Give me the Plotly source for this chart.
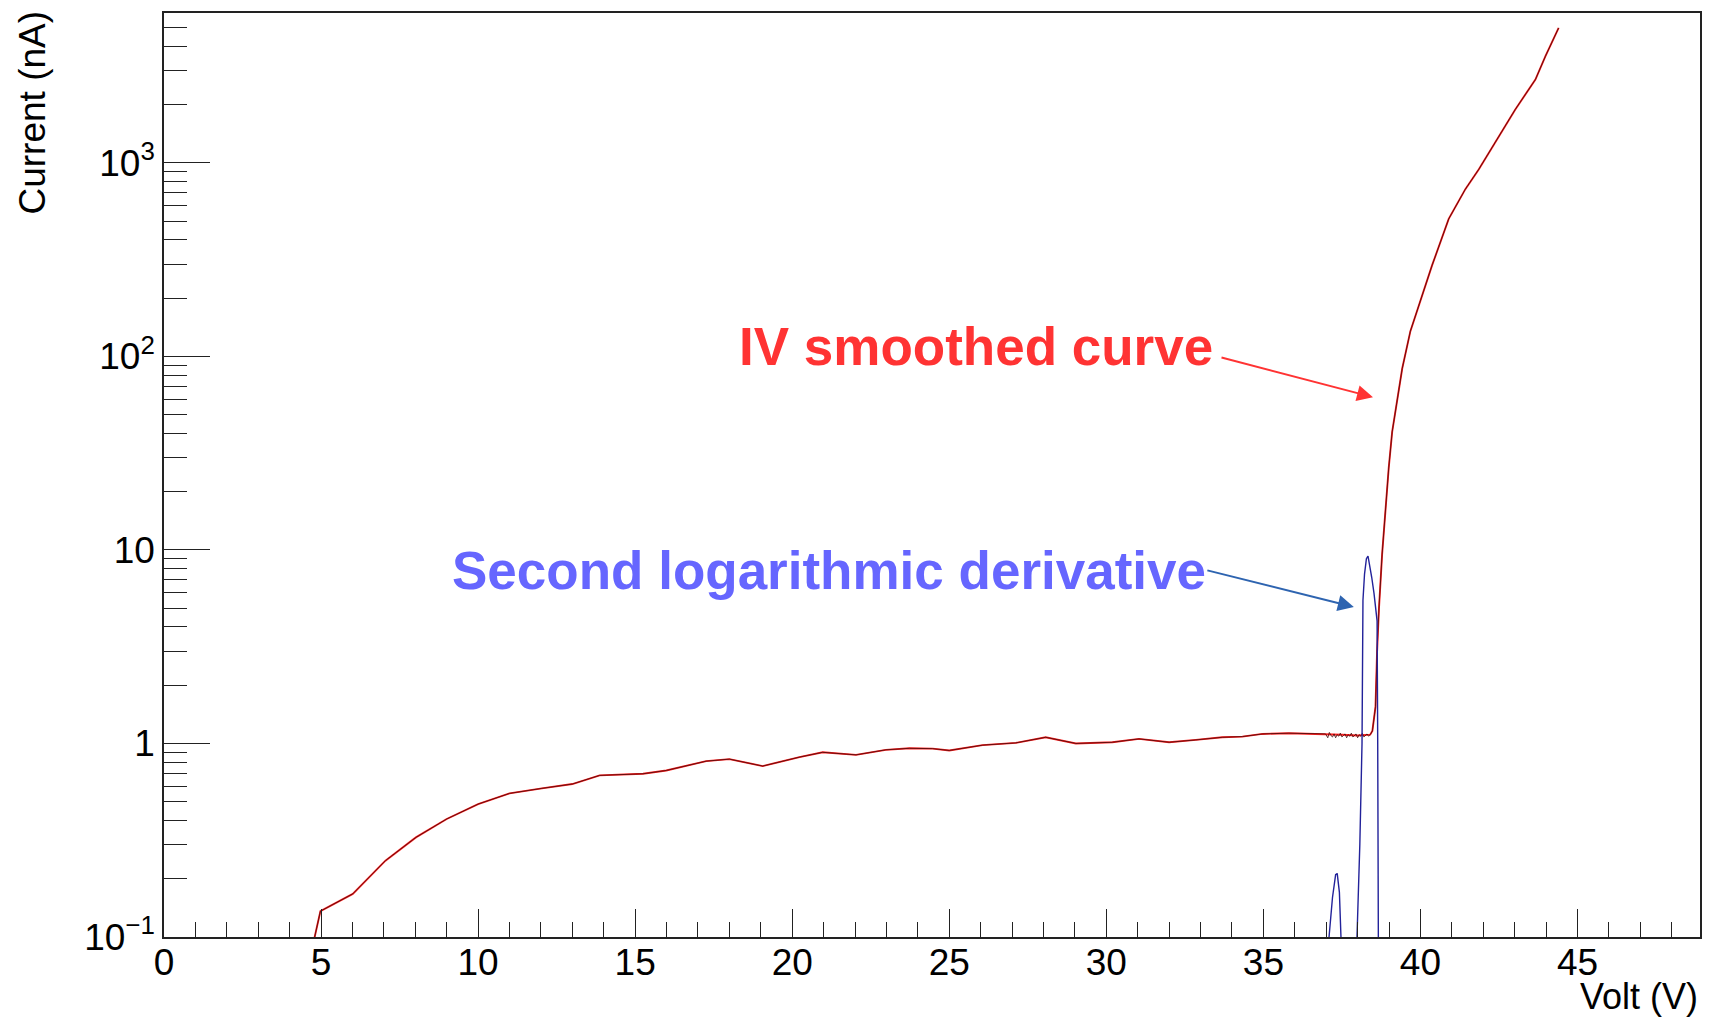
import plotly.graph_objects as go

# ---- data ----
iv_volt = [4.70, 4.98, 6.01, 7.05, 8.02, 9.0, 10.0, 11.0, 12.03, 13.0, 13.87, 15.25, 15.99,
           17.26, 18.0, 19.06, 20.23, 20.97, 22.03, 22.98, 23.73, 24.47, 25.0, 26.06, 27.12,
           28.07, 29.03, 30.19, 31.04, 32.0, 32.85, 33.69, 34.33, 34.97, 35.81, 36.98, 37.5,
           38.0, 38.4, 38.47, 38.57, 38.62, 38.68, 38.78, 38.89, 38.99, 39.10, 39.26, 39.42,
           39.68, 40.05, 40.37, 40.90, 41.43, 41.86, 42.49, 43.02, 43.66, 43.98, 44.40]
iv_curr = [0.085, 0.136, 0.167, 0.248, 0.327, 0.407, 0.486, 0.552, 0.586, 0.617, 0.684, 0.697, 0.725,
           0.81, 0.83, 0.764, 0.85, 0.90, 0.873, 0.927, 0.944, 0.94, 0.92, 0.98, 1.007,
           1.076, 1.0, 1.014, 1.056, 1.014, 1.043, 1.076, 1.085, 1.12, 1.13, 1.12, 1.11,
           1.10, 1.11, 1.16, 1.55, 3.0, 5.0, 9.5, 16.4, 26.5, 40.7, 60.8, 86.5,
           135, 207, 295, 513, 731, 927, 1377, 1888, 2693, 3556, 4980]

raw_volt = [4.70, 4.98, 6.01, 7.05, 8.02, 9.0, 10.0, 11.0, 12.03, 13.0, 13.87, 15.25, 15.99,
            17.26, 18.0, 19.06, 20.23, 20.97, 22.03, 22.98, 23.73, 24.47, 25.0, 26.06, 27.12,
            28.07, 29.03, 30.19, 31.04, 32.0, 32.85, 33.69, 34.33, 34.97, 35.81, 36.98,
            37.05, 37.10, 37.15, 37.20, 37.25, 37.30, 37.35, 37.40, 37.45, 37.50, 37.55, 37.60,
            37.65, 37.70, 37.75, 37.80, 37.85, 37.90, 37.95, 38.00, 38.05, 38.10, 38.15, 38.20,
            38.25, 38.30, 38.35, 38.40, 38.47, 38.57, 38.62, 38.68, 38.78, 38.89, 38.99, 39.10,
            39.26, 39.42, 39.68, 40.05, 40.37, 40.90, 41.43, 41.86, 42.49, 43.02, 43.66, 43.98, 44.40]
raw_curr = [0.085, 0.136, 0.167, 0.248, 0.327, 0.407, 0.486, 0.552, 0.586, 0.617, 0.684, 0.697, 0.725,
            0.81, 0.83, 0.764, 0.85, 0.90, 0.873, 0.927, 0.944, 0.94, 0.92, 0.98, 1.007,
            1.076, 1.0, 1.014, 1.056, 1.014, 1.043, 1.076, 1.085, 1.12, 1.13, 1.12,
            1.07, 1.14, 1.10, 1.08, 1.12, 1.07, 1.11, 1.09, 1.13, 1.08, 1.10, 1.12,
            1.07, 1.11, 1.09, 1.13, 1.08, 1.10, 1.12, 1.07, 1.11, 1.09, 1.13, 1.08,
            1.10, 1.12, 1.09, 1.11, 1.16, 1.55, 3.0, 5.0, 9.5, 16.4, 26.5, 40.7,
            60.8, 86.5, 135, 207, 295, 513, 731, 927, 1377, 1888, 2693, 3556, 4980]

d2_volt = [37.0, 37.09, 37.2, 37.3, 37.35, 37.42, 37.47, 37.7, 37.98, 38.07, 38.14, 38.17,
           38.22, 38.28, 38.33, 38.38, 38.45, 38.52, 38.58, 38.62, 38.64, 38.66, 38.9]
d2_vals = [0.01, 0.1, 0.16, 0.21, 0.213, 0.17, 0.1, 0.01, 0.1, 0.3, 1.0, 5.5,
           7.5, 9.0, 9.3, 8.5, 7.2, 6.0, 5.0, 4.3, 1.0, 0.1, 0.01]

y_tickvals = [0.1, 1, 10, 100, 1000]
y_ticktext = ["10<sup>\u22121</sup>", "1", "10", "10<sup>2</sup>", "10<sup>3</sup>"]
y_minor = [m * d for d in (0.1, 1, 10, 100, 1000) for m in range(2, 10) if m * d < 6000]

label_iv = "IV smoothed curve"
label_d2 = "Second logarithmic derivative"
x_title = "Volt (V)"
y_title = "Current (nA)"

FONT = "Liberation Sans, Arial, Helvetica, sans-serif"

fig = go.Figure()
fig.add_trace(go.Scatter(x=iv_volt, y=iv_curr, mode="lines",
                         line=dict(color="#ff2020", width=1.9), showlegend=False))
fig.add_trace(go.Scatter(x=raw_volt, y=raw_curr, mode="lines",
                         line=dict(color="#3a0a0a", width=0.8), showlegend=False))
fig.add_trace(go.Scatter(x=d2_volt, y=d2_vals, mode="lines",
                         line=dict(color="#22229a", width=1.4), showlegend=False))

fig.update_layout(
    width=1713, height=1020,
    margin=dict(l=164, r=12, t=11, b=83),
    paper_bgcolor="white", plot_bgcolor="white",
    font=dict(family=FONT, size=37, color="black"),
    xaxis=dict(range=[0, 48.9], showgrid=False, zeroline=False,
               showline=True, linecolor="#222", linewidth=1.5, mirror=True,
               ticks="inside", ticklen=28, tickwidth=1.3, tickcolor="#222",
               dtick=5, tick0=0, ticklabelstandoff=-8,
               tickfont=dict(size=37),
               minor=dict(ticks="inside", ticklen=15, dtick=1, tickcolor="#222",
                          tickwidth=1.3, showgrid=False)),
    yaxis=dict(type="log", range=[-1, 3.774], showgrid=False, zeroline=False,
               showline=True, linecolor="#222", linewidth=1.5, mirror=True,
               ticks="inside", ticklen=46, tickwidth=1.3, tickcolor="#222",
               tickmode="array", tickvals=y_tickvals, ticktext=y_ticktext,
               tickfont=dict(size=37),
               minor=dict(ticks="inside", ticklen=23, tickmode="array", tickvals=y_minor,
                          tickcolor="#222", tickwidth=1.3, showgrid=False)),
)

# axis titles (ROOT style: at the end of the axes)
fig.add_annotation(text=x_title, xref="paper", yref="paper", x=1.0, y=0,
                   xanchor="right", yanchor="bottom", yshift=-82, showarrow=False,
                   font=dict(size=36, family=FONT))
fig.add_annotation(text=y_title, xref="paper", yref="paper", x=0, y=1.0,
                   xanchor="right", yanchor="top", xshift=-110, yshift=4, textangle=-90,
                   showarrow=False, font=dict(size=37, family=FONT))

# labels with arrows
fig.add_annotation(text="<b>" + label_iv + "</b>", x=38.49, y=1.789, xref="x", yref="y",
                   showarrow=False, xanchor="right", yanchor="middle",
                   xshift=-158, yshift=51, font=dict(size=53, color="#ff3333", family=FONT))
fig.add_annotation(x=38.49, y=1.789, xref="x", yref="y", ax=-153, ay=-40,
                   showarrow=True, arrowhead=2, arrowsize=1.6, arrowwidth=2,
                   arrowcolor="#ff3333", text="")
fig.add_annotation(text="<b>" + label_d2 + "</b>", x=37.88, y=0.705, xref="x", yref="y",
                   showarrow=False, xanchor="right", yanchor="middle",
                   xshift=-146, yshift=37, font=dict(size=53, color="#6666ff", family=FONT))
fig.add_annotation(x=37.88, y=0.705, xref="x", yref="y", ax=-148, ay=-37,
                   showarrow=True, arrowhead=2, arrowsize=1.6, arrowwidth=2,
                   arrowcolor="#2e64b0", text="")

fig.write_html("out.html")
